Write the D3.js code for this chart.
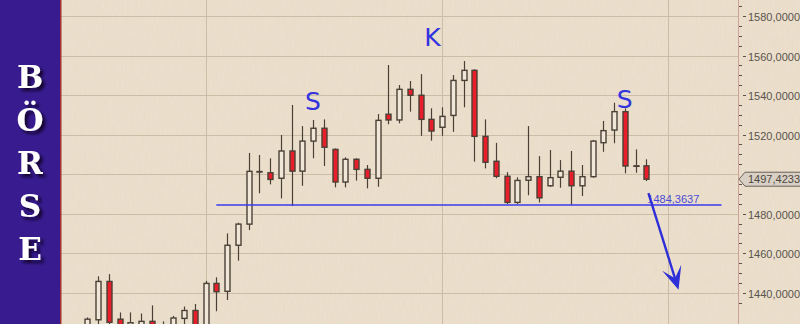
<!DOCTYPE html>
<html>
<head>
<meta charset="utf-8">
<script src="https://cdn.jsdelivr.net/npm/d3@7"></script>
<style>
  html, body { margin: 0; padding: 0; background: #ece1cf; }
  svg { display: block; }
</style>
</head>
<body>
<div id="chart"></div>
<script>
var W = 800, H = 324;

// candle data, one entry per session
var opens  = [1418, 1426.3, 1445.7, 1426.6, 1419, 1420, 1425.5, 1421, 1422, 1427, 1431, 1421, 1444.7,
              1440.7, 1464, 1474.7, 1501.2, 1500.7, 1497.9, 1511.7, 1501.5, 1516.7, 1523.2, 1512.5, 1496,
              1507.5, 1502.4, 1497.9, 1530.3, 1527.4, 1542.9, 1539.9, 1527.7, 1523.7, 1529.7, 1547.4, 1552.5,
              1519.1, 1506.5, 1498.9, 1485.7, 1496.9, 1498.7, 1494.1, 1498.4, 1501.5, 1494.1, 1498.7, 1515.9,
              1522.3, 1531.6, 1504.1, 1504.2];
var highs  = [1427.5, 1448.3, 1449.4, 1430, 1430, 1429.5, 1433.6, 1425.5, 1428.3, 1433, 1434.3, 1446, 1447.8,
              1470, 1475.4, 1510.7, 1509.7, 1508, 1519.8, 1535, 1524.3, 1527.4, 1527.7, 1513, 1508.5,
              1508, 1504.6, 1530.4, 1555.2, 1545.1, 1547.1, 1550.6, 1533.3, 1533.8, 1550.1, 1557.2, 1553,
              1527.7, 1515.8, 1501, 1498.4, 1524.3, 1509.1, 1512.2, 1507.1, 1511.7, 1504.6, 1517.2, 1526.9,
              1536.1, 1533.3, 1512.5, 1507.5];
var lows   = [1414, 1421, 1420, 1417, 1418, 1417, 1416, 1418, 1419, 1422, 1418, 1419, 1430.6,
              1436.3, 1456.2, 1471.7, 1490.3, 1494.8, 1487.7, 1483.8, 1494.1, 1508, 1504.1, 1493.3, 1493.3,
              1496.7, 1492.8, 1493.6, 1525.2, 1525.7, 1531.6, 1519.4, 1516.9, 1519.4, 1521.4, 1533.8, 1506.3,
              1502.9, 1497.9, 1484.8, 1484.9, 1489.3, 1485.7, 1493.6, 1493.1, 1484.4, 1488.9, 1498.2, 1511.3,
              1515.6, 1500.4, 1500.7, 1496.5];
var closes = [1426.6, 1445.7, 1425, 1420, 1424.8, 1425.5, 1419, 1422, 1427.2, 1431, 1421, 1444.7, 1440.5,
              1464, 1474.7, 1501.4, 1501.3, 1497.3, 1511.7, 1501.5, 1516.7, 1523.2, 1513.6, 1496, 1507.5,
              1502.4, 1497.9, 1527.2, 1527.4, 1542.9, 1539.9, 1527.7, 1521.8, 1529.2, 1547.4, 1552.5, 1519.1,
              1506, 1498.9, 1485.7, 1496.8, 1498.7, 1488, 1498.2, 1501.5, 1494.1, 1498.7, 1516.7, 1522,
              1531.6, 1504.1, 1504.2, 1497.4233];

var yTicks     = [1440, 1460, 1480, 1500, 1520, 1540, 1560, 1580];
var yLabelTicks = [1440, 1460, 1480, 1520, 1540, 1560, 1580];
var monthIdx   = [11, 33, 54];          // vertical grid (period starts)
var supportVal = 1484.3637;
var supportFrom = 12, supportTo = 59;
var lastPrice  = 1497.4233;
var patternText = ["S", "K", "S"];
var patternIdx  = [21, 32.1, 50];
var patternVal  = [1532.5, 1565, 1533.5];
var arrowIdx   = [52.2, 55.0];
var arrowVal   = [1490.4, 1441.5];
var sideLetters = ["B", "Ö", "R", "S", "E"];

var fmt = function (v) { return d3.format(".4f")(v).replace(".", ","); };

var svg = d3.select("#chart").append("svg")
      .attr("width", W)
      .attr("height", H);

var defs = svg.append("defs");
defs.append("filter").attr("id", "shadow")
      .attr("x", "-30%").attr("y", "-30%").attr("width", "180%").attr("height", "180%")
    .append("feDropShadow")
      .attr("dx", 3).attr("dy", 3).attr("stdDeviation", 1.6)
      .attr("flood-color", "#0a0520").attr("flood-opacity", 0.85);

// paper-ish texture
var tex = defs.append("filter").attr("id", "paper");
tex.append("feTurbulence").attr("type", "fractalNoise")
      .attr("baseFrequency", "0.9 0.08").attr("numOctaves", 2).attr("result", "n");
tex.append("feColorMatrix").attr("type", "matrix")
      .attr("values", "0 0 0 0 0.45  0 0 0 0 0.38  0 0 0 0 0.28  0 0 0 0.10 0");
tex.append("feComposite").attr("in2", "SourceGraphic").attr("operator", "in");

svg.append("rect").attr("x", 60).attr("y", 0).attr("width", W - 60).attr("height", H)
      .attr("fill", "#ede1ce");
svg.append("rect").attr("x", 60).attr("y", 0).attr("width", W - 60).attr("height", H)
      .attr("fill", "#ede1ce").attr("filter", "url(#paper)");

// scales
var x = d3.scaleLinear().domain([0, 52]).range([87.3, 646.3]);
var y = d3.scaleLinear().domain([1440, 1580]).range([292.7, 16]);
var axisX = 738;

// grid
svg.append("g").selectAll("line.h")
      .data(yTicks).enter().append("line")
      .attr("x1", 60).attr("x2", axisX)
      .attr("y1", function (d) { return Math.round(y(d)) + 0.5; })
      .attr("y2", function (d) { return Math.round(y(d)) + 0.5; })
      .attr("stroke", "#cbbda6").attr("stroke-width", 1);
svg.append("g").selectAll("line.v")
      .data(monthIdx).enter().append("line")
      .attr("x1", function (d) { return Math.round(x(d)) + 0.5; })
      .attr("x2", function (d) { return Math.round(x(d)) + 0.5; })
      .attr("y1", 0).attr("y2", H)
      .attr("stroke", "#cbbda6").attr("stroke-width", 1);

// candles
var data = opens.map(function (o, i) {
  return {i: i, o: o, h: highs[i], l: lows[i], c: closes[i]};
});
var g = svg.append("g");
g.selectAll("line.wick")
      .data(data).enter().append("line")
      .attr("x1", function (d) { return Math.round(x(d.i)) + 0.5; })
      .attr("x2", function (d) { return Math.round(x(d.i)) + 0.5; })
      .attr("y1", function (d) { return y(d.h); })
      .attr("y2", function (d) { return y(d.l); })
      .attr("stroke", "#4a4036").attr("stroke-width", 1.2);
g.selectAll("rect.body")
      .data(data).enter().append("rect")
      .attr("x", function (d) { return Math.round(x(d.i)) - 2; })
      .attr("y", function (d) { return y(Math.max(d.o, d.c)); })
      .attr("width", 5)
      .attr("height", function (d) { return Math.max(0.5, Math.abs(y(d.o) - y(d.c))); })
      .attr("fill", function (d) { return d.c < d.o ? "#e81e2a" : "#f0e7d8"; })
      .attr("stroke", "#4a4036").attr("stroke-width", 1.4);

// support line
svg.append("line")
      .attr("x1", x(supportFrom)).attr("x2", x(supportTo))
      .attr("y1", y(supportVal)).attr("y2", y(supportVal))
      .attr("stroke", "#3a3aee").attr("stroke-width", 1.4);
svg.append("text")
      .attr("x", x(52) + 1).attr("y", y(supportVal) - 2)
      .attr("font-family", "Liberation Sans, Arial, sans-serif")
      .attr("font-size", 11).attr("fill", "#4b4bd6")
      .text(fmt(supportVal));

// arrow
var ax0 = x(arrowIdx[0]), ay0 = y(arrowVal[0]),
    ax1 = x(arrowIdx[1]), ay1 = y(arrowVal[1]);
var len = Math.hypot(ax1 - ax0, ay1 - ay0),
    ux = (ax1 - ax0) / len, uy = (ay1 - ay0) / len,
    px = -uy, py = ux;
var headL = 23, headW = 10, notch = 12;
svg.append("line")
      .attr("x1", ax0).attr("y1", ay0)
      .attr("x2", ax1 - ux * notch).attr("y2", ay1 - uy * notch)
      .attr("stroke", "#2f2fd8").attr("stroke-width", 2.4);
svg.append("path")
      .attr("d", "M" + ax1 + "," + ay1 +
                 " L" + (ax1 - ux * headL + px * headW) + "," + (ay1 - uy * headL + py * headW) +
                 " L" + (ax1 - ux * notch) + "," + (ay1 - uy * notch) +
                 " L" + (ax1 - ux * headL - px * headW) + "," + (ay1 - uy * headL - py * headW) + " Z")
      .attr("fill", "#2f2fd8");

// pattern labels
svg.append("g").selectAll("text")
      .data(patternText).enter().append("text")
      .attr("x", function (d, i) { return x(patternIdx[i]); })
      .attr("y", function (d, i) { return y(patternVal[i]); })
      .attr("text-anchor", "middle")
      .attr("font-family", "DejaVu Sans, Verdana, sans-serif")
      .attr("font-size", 25).attr("fill", "#3434df")
      .text(function (d) { return d; });

// right axis
svg.append("line")
      .attr("x1", axisX + 0.5).attr("x2", axisX + 0.5).attr("y1", 0).attr("y2", H)
      .attr("stroke", "#c9a494").attr("stroke-width", 1);
var minor = d3.range(1435, 1586, 5).filter(function (v) { return v % 20 !== 0; });
svg.append("g").selectAll("line")
      .data(minor).enter().append("line")
      .attr("x1", axisX + 1).attr("x2", axisX + 4)
      .attr("y1", function (d) { return Math.round(y(d)) + 0.5; })
      .attr("y2", function (d) { return Math.round(y(d)) + 0.5; })
      .attr("stroke", "#5a514a");
var lab = svg.append("g").selectAll("g")
      .data(yLabelTicks).enter().append("g")
      .attr("transform", function (d) { return "translate(0," + (Math.round(y(d)) + 0.5) + ")"; });
lab.append("line").attr("x1", axisX + 5).attr("x2", axisX + 8)
      .attr("stroke", "#5a514a");
lab.append("text").attr("x", axisX + 10).attr("y", 4)
      .attr("font-family", "Liberation Sans, Arial, sans-serif")
      .attr("font-size", 11).attr("fill", "#5a544e")
      .text(function (d) { return fmt(d); });

// last price tag
var ly = y(lastPrice);
svg.append("path")
      .attr("d", "M" + (axisX + 1) + "," + ly + " L" + (axisX + 7) + "," + (ly - 7) +
                 " L" + (W + 2) + "," + (ly - 7) + " L" + (W + 2) + "," + (ly + 7) +
                 " L" + (axisX + 7) + "," + (ly + 7) + " Z")
      .attr("fill", "#d8d0c4").attr("stroke", "#6a625a").attr("stroke-width", 1);
svg.append("text").attr("x", axisX + 10).attr("y", ly + 4)
      .attr("font-family", "Liberation Sans, Arial, sans-serif")
      .attr("font-size", 11).attr("fill", "#4e4842")
      .text(fmt(lastPrice));

// left banner
svg.append("rect").attr("x", 0).attr("y", 0).attr("width", 60).attr("height", H)
      .attr("fill", "#381b8e");
svg.append("rect").attr("x", 60).attr("y", 0).attr("width", 1.5).attr("height", H)
      .attr("fill", "#a33333");
svg.append("g").selectAll("text")
      .data(sideLetters).enter().append("text")
      .attr("x", 30)
      .attr("y", function (d, i) { return 88 + i * 43; })
      .attr("text-anchor", "middle")
      .attr("font-family", "DejaVu Serif, Liberation Serif, serif")
      .attr("font-weight", "bold")
      .attr("font-size", 31).attr("fill", "#ffffff")
      .attr("filter", "url(#shadow)")
      .text(function (d) { return d; });
</script>
</body>
</html>
